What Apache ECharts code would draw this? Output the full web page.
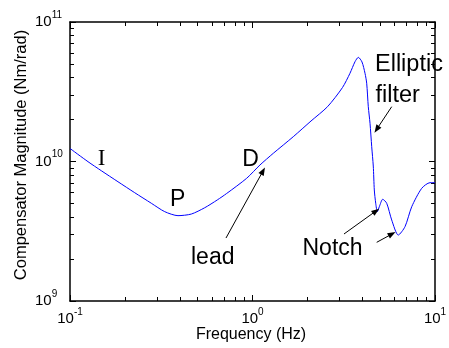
<!DOCTYPE html>
<html>
<head>
<meta charset="utf-8">
<script src="https://cdn.jsdelivr.net/npm/echarts@6/dist/echarts.min.js"></script>
<style>html,body{margin:0;padding:0;background:#fff}#c{width:449px;height:348px}</style>
</head>
<body>
<div id="c"></div>
<script>
// Frequency (Hz)
const freq = [0.1, 0.1255, 0.1484, 0.1832, 0.2262, 0.279, 0.3303, 0.3906, 0.462, 0.547, 0.641, 0.722, 0.929, 1.099, 1.30, 1.673, 2.092, 2.576, 3.112, 3.421, 3.644, 3.80, 3.981, 4.135, 4.224, 4.31, 4.405, 4.50, 4.59, 4.65, 4.733, 4.83, 4.953, 5.17, 5.437, 5.79, 6.29, 6.85, 7.455, 8.455, 9.39, 10];
// Compensator magnitude (Nm/rad)
const magnitude = [1.24e10, 9.97e9, 8.59e9, 7.16e9, 5.975e9, 5.02e9, 4.37e9, 4.09e9, 4.20e9, 4.66e9, 5.30e9, 5.9e9, 7.58e9, 9.44e9, 1.145e10, 1.506e10, 1.951e10, 2.47e10, 3.39e10, 4.29e10, 5.19e10, 5.58e10, 5.17e10, 4.29e10, 3.64e10, 2.47e10, 1.879e10, 1.277e10, 9.28e9, 6.25e9, 5.02e9, 4.37e9, 4.74e9, 5.36e9, 5.02e9, 3.81e9, 2.97e9, 3.41e9, 4.74e9, 6.42e9, 7.05e9, 7.05e9];
// Axis ranges
const xRange = [0.1, 10];
const yRange = [1e9, 1e11];
// Annotation arrows: [tail, head] in data coordinates
const arrows = [
  [[0.7157, 2.828e9], [1.142, 8.55e9]],
  [[5.79, 2.471e10], [4.792, 1.701e10]],
  [[3.172, 3.022e9], [4.75, 4.418e9]],
  [[4.792, 2.634e9], [5.813, 3.022e9]]
];

const FONT = '"Liberation Sans", Arial, sans-serif';
const supFmt = v => '{b|10}{s|' + Math.round(Math.log10(v)) + '}';
const rich = {
  b: { fontSize: 15, lineHeight: 24, fontFamily: FONT, color: '#000' },
  s: { fontSize: 10, lineHeight: 10, verticalAlign: 'top', fontFamily: FONT, color: '#000' }
};
function mkAxis(kind, pos, labels, range) {
  const a = {
    type: 'log', logBase: 10, min: range[0], max: range[1], position: pos,
    axisLine: { show: true, onZero: false, lineStyle: { color: '#000', width: 1.5 } },
    axisTick: { show: true, inside: true, length: 6, lineStyle: { color: '#000', width: 1 } },
    minorTick: { show: true, splitNumber: 9, length: 4, lineStyle: { color: '#000', width: 1 } },
    splitLine: { show: false }, minorSplitLine: { show: false },
    axisLabel: { show: labels, formatter: supFmt, rich: rich, showMinLabel: true, showMaxLabel: true }
  };
  if (kind === 'y' && labels) { a.axisLabel.align = 'left'; a.axisLabel.margin = 35; }
  if (kind === 'x' && labels) { a.axisLabel.margin = 6; }
  return a;
}
function txt(x, y, text, font, align) {
  return { type: 'text', x: x, y: y, silent: true, style: { text: text, font: font, fill: '#000', align: align, verticalAlign: 'middle' } };
}

const chart = echarts.init(document.getElementById('c'), null, { renderer: 'canvas' });
chart.setOption({
  animation: false,
  textStyle: { fontFamily: FONT },
  grid: { left: 70, right: 14, top: 22, bottom: 47, containLabel: false, outerBoundsMode: 'none' },
  xAxis: [mkAxis('x', 'bottom', true, xRange), mkAxis('x', 'top', false, xRange)],
  yAxis: [mkAxis('y', 'left', true, yRange), mkAxis('y', 'right', false, yRange)],
  series: [{
    type: 'line', xAxisIndex: 0, yAxisIndex: 0,
    data: freq.map((f, i) => [f, magnitude[i]]),
    showSymbol: false, smooth: 0.25,
    lineStyle: { color: '#0000ff', width: 1 },
    silent: true, z: 3,
    markLine: {
      silent: true, animation: false,
      symbol: ['none', 'triangle'], symbolSize: [6, 8],
      label: { show: false },
      lineStyle: { color: '#000', width: 1, type: 'solid' },
      emphasis: { disabled: true },
      data: arrows.map(a => [{ coord: a[0] }, { coord: a[1] }])
    }
  }],
  graphic: [
    txt(101.7, 159, 'I', '23px "Liberation Serif", serif', 'center'),
    txt(177.7, 199.2, 'P', '23px ' + FONT, 'center'),
    txt(250.5, 159.5, 'D', '23px ' + FONT, 'center'),
    txt(191, 258, 'lead', '23px ' + FONT, 'left'),
    txt(302.5, 249, 'Notch', '23px ' + FONT, 'left'),
    txt(375, 65, 'Elliptic', '23.5px ' + FONT, 'left'),
    txt(375.5, 95.4, 'filter', '23.5px ' + FONT, 'left'),
    txt(251, 335, 'Frequency (Hz)', '16px ' + FONT, 'center'),
    Object.assign(txt(21, 155, 'Compensator Magnitude (Nm/rad)', '16.5px ' + FONT, 'center'), { rotation: Math.PI / 2 })
  ]
});
</script>
</body>
</html>
